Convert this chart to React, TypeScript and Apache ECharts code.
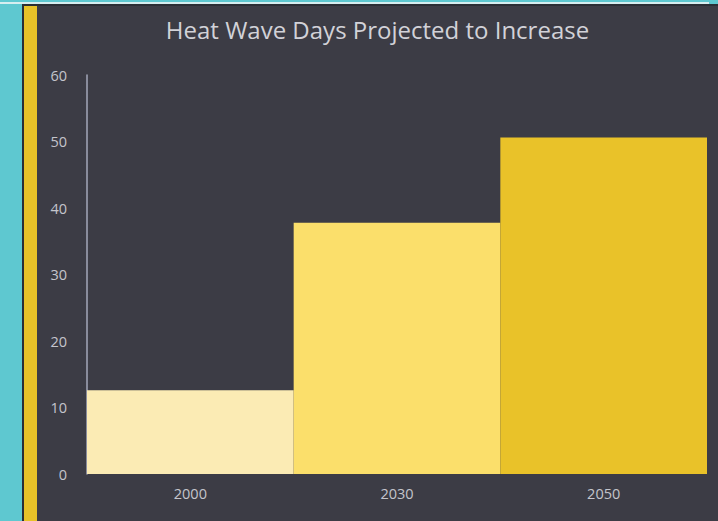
import React, { useEffect, useRef } from "react";
import * as echarts from "echarts";

const titleText = "Heat Wave Days Projected to Increase";
const years = ["2000", "2030", "2050"];
const heatWaveDays = [12.6, 37.8, 50.6];
const barColors = ["#fbebb4", "#fbdf6b", "#e9c229"];
const yTicks = { min: 0, max: 60, interval: 10 };

export default function App() {
  const ref = useRef<HTMLDivElement>(null);

  useEffect(() => {
    document.body.style.margin = "0";
    if (!ref.current) return;
    const chart = echarts.init(ref.current, null, { renderer: "svg" });
    const font = "'Open Sans', 'Noto Sans', sans-serif";
    chart.setOption({
      animation: false,
      backgroundColor: "transparent",
      textStyle: { fontFamily: font },
      title: {
        text: titleText,
        left: "center",
        top: 12,
        textStyle: {
          color: "#d2d2d8",
          fontSize: 24,
          fontWeight: "normal",
          fontFamily: font,
        },
      },
      grid: { left: 50, right: 11, top: 75, bottom: 47 },
      xAxis: {
        type: "category",
        data: years,
        axisLine: { show: false },
        axisTick: { show: false },
        axisLabel: { color: "#c4c5cc", fontSize: 14.5, margin: 12, fontFamily: font },
        splitLine: { show: false },
      },
      yAxis: {
        type: "value",
        min: yTicks.min,
        max: yTicks.max,
        interval: yTicks.interval,
        axisLine: { show: true, lineStyle: { color: "#a3a7ba", width: 1.5 } },
        axisTick: { show: false },
        splitLine: { show: false },
        axisLabel: { color: "#c4c5cc", fontSize: 14.5, margin: 20, fontFamily: font },
      },
      series: [
        {
          type: "bar",
          barWidth: "100%",
          barCategoryGap: "0%",
          data: heatWaveDays.map((v, i) => ({
            value: v,
            itemStyle: { color: barColors[i] },
          })),
        },
      ],
    });
    return () => chart.dispose();
  }, []);

  return (
    <div
      style={{
        position: "fixed",
        left: 0,
        top: 0,
        width: 718,
        height: 521,
        background: "#5ec8d0",
        overflow: "hidden",
      }}
    >
      <div style={{ position: "absolute", left: 0, top: 2, width: 709, height: 2, background: "#d6eef0" }} />
      <div style={{ position: "absolute", left: 22, top: 4, width: 696, height: 517, background: "#2a2e35" }} />
      <div style={{ position: "absolute", left: 24, top: 6, width: 694, height: 515, background: "#3c3c45" }} />
      <div style={{ position: "absolute", left: 24, top: 6, width: 13, height: 515, background: "#e8c228" }} />
      <div ref={ref} style={{ position: "absolute", left: 37, top: 0, width: 681, height: 521 }} />
    </div>
  );
}
